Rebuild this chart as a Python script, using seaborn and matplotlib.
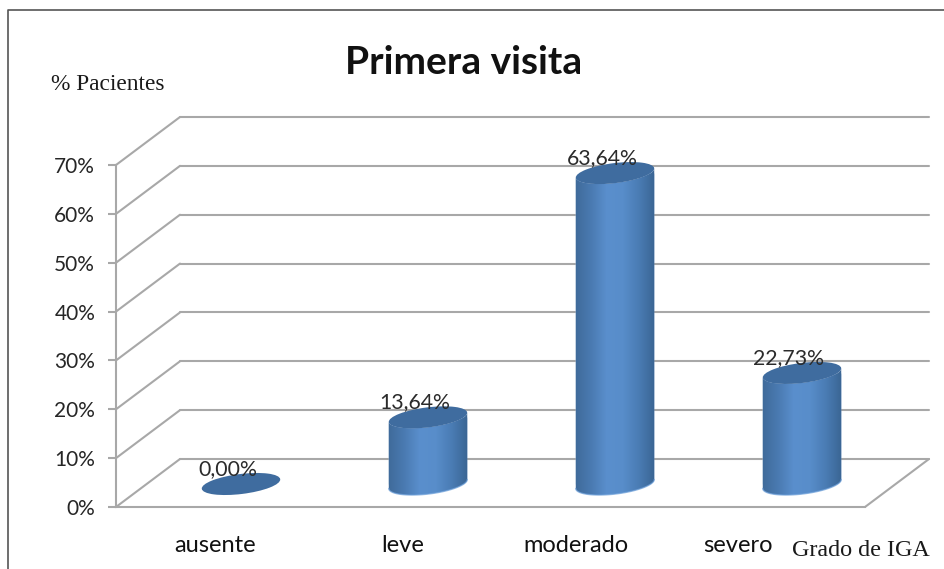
import numpy as np
import matplotlib
matplotlib.use("Agg")
import matplotlib.pyplot as plt
import seaborn as sns
from matplotlib.colors import LinearSegmentedColormap
from matplotlib.lines import Line2D
from matplotlib.patches import Ellipse
from matplotlib.path import Path
from matplotlib.transforms import IdentityTransform, offset_copy

# data
grades = ["ausente", "leve", "moderado", "severo"]
values = [0.0, 13.64, 63.64, 22.73]
value_labels = ["0,00%", "13,64%", "63,64%", "22,73%"]
y_ticks = [0, 10, 20, 30, 40, 50, 60, 70]
y_tick_labels = ["0%", "10%", "20%", "30%", "40%", "50%", "60%", "70%"]

W, H = 944, 569
sns.set_style("white")
plt.rcParams["font.family"] = ["Lato", "DejaVu Sans"]

fig = plt.figure(figsize=(W / 100, H / 100), dpi=100, facecolor="white")


def px_axes(x0, x1, y_bottom, y_top):
    # axes placed by pixel box, y counted from the top of the image
    return fig.add_axes([x0 / W, 1 - y_bottom / H, (x1 - x0) / W, (y_bottom - y_top) / H])


GREY = "#a8a8a8"
DEPTH_X, DEPTH_Y = 64, 48

# front plane of the fake 3d box
ax = px_axes(116, 865, 507, 165)
ax.set_facecolor("none")
ax.set_xlim(0, 1)
ax.set_ylim(0, 70)
for side in ["top", "right"]:
    ax.spines[side].set_visible(False)
for side in ["left", "bottom"]:
    ax.spines[side].set_color(GREY)
    ax.spines[side].set_linewidth(1.5)
ax.set_yticks(y_ticks)
ax.set_yticklabels(y_tick_labels, fontsize=15, color="#262626")
ax.tick_params(axis="y", left=True, length=6, width=1.5, color=GREY, pad=9)

# category labels sit unevenly in the original
label_px = [215, 403, 576, 738]
ax.set_xticks([(p - 116) / 749 for p in label_px])
ax.set_xticklabels(grades, fontsize=17, color="#111111")
ax.tick_params(axis="x", bottom=False, pad=17)

back = offset_copy(ax.transData, fig=fig, x=DEPTH_X, y=DEPTH_Y, units="dots")
for v in y_ticks:
    ax.plot([0, 1], [v, v], color=GREY, lw=1.5, transform=back, clip_on=False, solid_capstyle="round")
    p0 = ax.transData.transform((0, v))
    ax.add_line(Line2D([p0[0], p0[0] + DEPTH_X], [p0[1], p0[1] + DEPTH_Y], color=GREY, lw=1.5,
                       transform=IdentityTransform(), clip_on=False))
p1 = ax.transData.transform((1, 0))
ax.add_line(Line2D([p1[0], p1[0] + DEPTH_X], [p1[1], p1[1] + DEPTH_Y], color=GREY, lw=1.5,
                   transform=IdentityTransform(), clip_on=False))

# bars live half way into the box, axes runs a bit below zero so the round base fits
bar_ax = px_axes(147.5, 895.5, 484 + 5 * 342 / 70, 142)
bar_ax.set_facecolor("none")
sns.barplot(x=grades, y=values, color="#4f81bd", width=0.4225, saturation=1, ax=bar_ax)
bar_ax.set_xlim(-0.5, 3.5)
bar_ax.set_ylim(-5, 70)
bar_ax.axis("off")

side_cmap = LinearSegmentedColormap.from_list(
    "cyl", ["#3f6a99", "#4a7ab1", "#5a8fcd", "#588dca", "#4a7cb4", "#3a6593"])
gradient = np.linspace(0, 1, 256).reshape(1, -1)

ANGLE = np.deg2rad(7)
A, B = 39.5, 10.0


def ellipse_points(cx, cy):
    t = np.linspace(0, 2 * np.pi, 181)[:-1]
    x = cx + A * np.cos(t) * np.cos(ANGLE) - B * np.sin(t) * np.sin(ANGLE)
    y = cy + A * np.cos(t) * np.sin(ANGLE) + B * np.sin(t) * np.cos(ANGLE)
    return np.column_stack([x, y])


def lower_arc(pts):
    # walk from leftmost to rightmost point along the underside
    i, j = pts[:, 0].argmin(), pts[:, 0].argmax()
    pts = np.roll(pts, -i, axis=0)
    return pts[:(j - i) % len(pts) + 1]


for bar, label in zip(bar_ax.patches, value_labels):
    x0, w, h = bar.get_x(), bar.get_width(), bar.get_height()
    cx, cy = bar_ax.transData.transform((x0 + w / 2, h))
    _, base_y = bar_ax.transData.transform((x0, 0))
    if h > 0:
        low = lower_arc(ellipse_points(cx, base_y))
        top = lower_arc(ellipse_points(cx, cy))
        body = Path(np.vstack([low, top[::-1], low[:1]]), closed=True)
        bar.set_clip_path(body, IdentityTransform())
        im = bar_ax.imshow(gradient, cmap=side_cmap, aspect="auto", zorder=3,
                           extent=[x0, x0 + w, -5, h + 5])
        im.set_clip_path(body, IdentityTransform())
        bar_ax.add_line(Line2D(low[:, 0], low[:, 1], color="#6c9fd9", lw=1.0, alpha=0.7, zorder=3.5,
                               transform=IdentityTransform(), clip_on=False))
    else:
        bar.set_visible(False)
    bar_ax.add_patch(Ellipse((cx, cy), 2 * A, 2 * B, angle=7, facecolor="#3f6c9f", edgecolor="none",
                             transform=IdentityTransform(), zorder=4, clip_on=False))
    bar_ax.annotate(label, (x0 + w / 2, h), xytext=(-13, 15), textcoords="offset pixels", ha="center",
                    va="center", fontsize=15.3, color="#2b2b2b", zorder=5, annotation_clip=False)
bar_ax.set_xlim(-0.5, 3.5)
bar_ax.set_ylim(-5, 70)

# outer border, only top and left are in the image
fig.add_artist(Line2D([8 / W, 8 / W, 1], [0, 1 - 10 / H, 1 - 10 / H], color="#555555", lw=1.2))

fig.text(464 / W, 1 - 63 / H, "Primera visita", ha="center", va="center", fontsize=28, fontweight="bold",
         color="#111111")
fig.text(51 / W, 1 - 84 / H, "% Pacientes", ha="left", va="center", fontsize=16.8,
         family=["Liberation Serif", "DejaVu Serif"], color="#1a1a1a")
fig.text(792 / W, 1 - 550 / H, "Grado de IGA", ha="left", va="center", fontsize=17.4,
         family=["Liberation Serif", "DejaVu Serif"], color="#1a1a1a")

plt.savefig("out.png", dpi=100)
